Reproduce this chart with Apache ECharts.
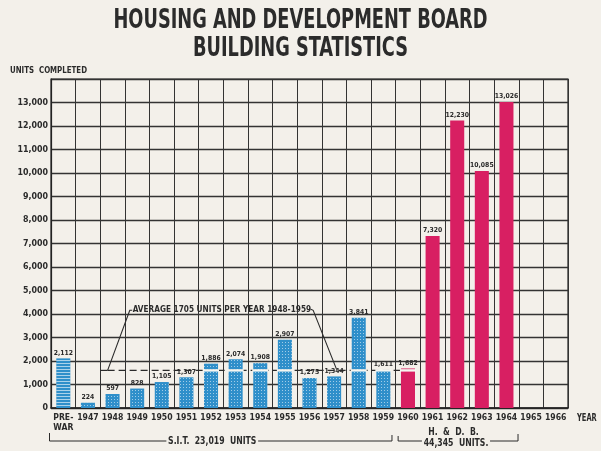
<!DOCTYPE html>
<html>
<head>
<meta charset="utf-8">
<script src="https://cdn.jsdelivr.net/npm/echarts@6/dist/echarts.min.js"></script>
<style>
html,body{margin:0;padding:0;background:#f3f0ea;}
#c{width:601px;height:451px;}
</style>
</head>
<body>
<div id="c"></div>
<script>
// ---- data ----
const categories = ['PRE-\nWAR','1947','1948','1949','1950','1951','1952','1953','1954','1955','1956','1957','1958','1959','1960','1961','1962','1963','1964','1965','1966'];
const sitValues = [2112,224,597,828,1105,1307,1886,2074,1908,2907,1275,1344,3841,1611,null,null,null,null,null,null,null];
const hdbValues = [null,null,null,null,null,null,null,null,null,null,null,null,null,null,1682,7320,12230,10085,13026,null,null];
const yMax = 14000;
const yStep = 1000;
const avgLevel = 1600;        // level at which the average line is drawn
const avgTextLevel = 4200;    // level of the annotation text
const titleText = 'HOUSING AND DEVELOPMENT BOARD\nBUILDING STATISTICS';
const avgText = 'AVERAGE 1705 UNITS PER YEAR 1948-1959';
const sitText = 'S.I.T.  23,019  UNITS';
const hdbText1 = 'H.  &  D.  B.';
const hdbText2 = '44,345  UNITS.';

const BG = '#f3f0ea';
const INK = '#2b2b2b';
const BLUE = '#2f8fca';
const PINK = '#d81f62';
const FONT = '"DejaVu Sans Condensed", "Liberation Sans Narrow", sans-serif';

const fmt = v => Number(v).toLocaleString('en-US');

const dotDecal = {
  symbol: 'rect', symbolSize: 1, color: 'rgba(255,255,255,0.55)',
  dashArrayX: [1, 1.4], dashArrayY: [1, 1.4]
};
const stripeDecal = {
  symbol: 'rect', symbolSize: 1, color: 'rgba(255,255,255,0.6)',
  dashArrayX: [20, 0], dashArrayY: [1, 1.6]
};

const sitData = sitValues.map((v, i) => {
  if (v == null) return null;
  if (i === 0) return { value: v, itemStyle: { decal: stripeDecal } };
  return v;
});

const labelStyle = {
  show: true, position: 'top', distance: 2,
  fontFamily: FONT, fontWeight: 'bold', fontSize: 6.8, color: INK,
  formatter: p => fmt(p.value)
};

const chart = echarts.init(document.getElementById('c'), null, { renderer: 'canvas' });

const option = {
  backgroundColor: BG,
  animation: false,
  grid: { left: 51, right: 33, top: 79, bottom: 43, show: true, borderColor: '#222', borderWidth: 1.2, backgroundColor: 'transparent' },
  xAxis: {
    type: 'category', data: categories,
    axisLine: { show: true, lineStyle: { color: '#222', width: 1.5 } },
    axisTick: { show: false },
    splitLine: { show: true, lineStyle: { color: '#333', width: 1 } },
    axisLabel: { interval: 0, fontFamily: FONT, fontWeight: 'bold', fontSize: 8.6, color: INK, margin: 5, lineHeight: 10 }
  },
  yAxis: {
    type: 'value', min: 0, max: yMax, interval: yStep,
    axisLine: { show: true, lineStyle: { color: '#222', width: 1.2 } },
    axisTick: { show: false },
    splitLine: { show: true, lineStyle: { color: '#333', width: 1.3 } },
    axisLabel: { fontFamily: FONT, fontWeight: 'bold', fontSize: 8.8, color: INK, margin: 3,
      formatter: v => v >= yMax ? '' : fmt(v) }
  },
  series: [
    { name: 'S.I.T.', type: 'bar', data: sitData, barWidth: '57%', barGap: '-100%',
      itemStyle: { color: BLUE, decal: dotDecal }, label: labelStyle, z: 3 },
    { name: 'H.D.B.', type: 'bar', data: hdbValues, barWidth: '57%', barGap: '-100%',
      itemStyle: { color: PINK }, label: labelStyle, z: 3 }
  ]
};
chart.setOption(option);

// ---- annotations positioned through the axes ----
const px = (i, v) => chart.convertToPixel({ seriesIndex: 0 }, [i, v]);
const band = px(1, 0)[0] - px(0, 0)[0];
const leftEdge = px(0, 0)[0] - band / 2;
const fx = f => leftEdge + f * band;          // fractional category position
const fy = v => px(0, v)[1];
const y0 = fy(0);
const yAvg = fy(avgLevel);
const yTxt = fy(avgTextLevel);
const i1948 = categories.indexOf('1948');
const i1960 = categories.indexOf('1960');
const barW = band * 0.57;

const txt = (x, y, text, size, opts) => Object.assign({
  type: 'text', z: 52, x: x, y: y, scaleX: (opts && opts.sx) || 1,
  style: Object.assign({ text: text, fontFamily: FONT, fontWeight: 'bold', fontSize: size, fill: INK,
    align: 'left', verticalAlign: 'middle' }, (opts && opts.style) || {})
}, {});

const g = [];
// title
g.push(txt(300.5, 35, titleText, 26, { sx: 0.76, style: { align: 'center', lineHeight: 27.5 } }));
// average line: short solid start, then dashes
g.push({ type: 'line', z: 50, shape: { x1: fx(i1948), y1: yAvg, x2: fx(i1948 + 0.3), y2: yAvg }, style: { stroke: INK, lineWidth: 1.2 } });
g.push({ type: 'line', z: 50, shape: { x1: fx(i1948 + 0.3), y1: yAvg, x2: fx(i1960 + 0.5), y2: yAvg }, style: { stroke: INK, lineWidth: 1.3, lineDash: [7, 4] } });
// white gaps on bars crossing the line
const allVals = sitValues.map((v, i) => v != null ? v : hdbValues[i]);
allVals.forEach((v, i) => {
  if (v != null && v > avgLevel && i >= i1948 && i <= i1960) {
    const cx = px(i, 0)[0];
    g.push({ type: 'rect', z: 51, shape: { x: cx - barW / 2 - 1, y: yAvg - 1.2, width: barW + 2, height: 2.4 }, style: { fill: '#f6f6f2' } });
  }
});
// leader lines
g.push({ type: 'polyline', z: 50, shape: { points: [[fx(i1948 + 0.3), yAvg], [fx(3.2), yTxt + 1], [fx(3.3), yTxt + 1]] }, style: { stroke: INK, lineWidth: 1.1, fill: null } });
g.push({ type: 'polyline', z: 50, shape: { points: [[fx(10.55), yTxt], [fx(10.65), yTxt + 1], [fx(11.6), yAvg - 1]] }, style: { stroke: INK, lineWidth: 1.1, fill: null } });
g.push(txt(fx(3.32), yTxt, avgText, 9.5, { sx: 0.86 }));

// axis captions
g.push(txt(10, 71, 'UNITS  COMPLETED', 8.5, { sx: 0.92 }));
g.push(txt(fx(21) + 9, y0 + 10, 'YEAR', 9.8, { sx: 0.76 }));

// bottom brackets
const yb = y0 + 33;
g.push({ type: 'polyline', z: 50, shape: { points: [[fx(0) - 1.5, yb - 8], [fx(0) - 1.5, yb], [fx(13.85), yb], [fx(13.85), yb - 6]] }, style: { stroke: INK, lineWidth: 1, fill: null } });
g.push(txt(fx(6.55), yb, sitText, 10, { sx: 0.86, style: { align: 'center', backgroundColor: BG, padding: [0, 2] } }));
g.push({ type: 'polyline', z: 50, shape: { points: [[fx(14.1), yb - 5], [fx(14.1), yb], [fx(18.97), yb], [fx(18.97), yb - 7]] }, style: { stroke: INK, lineWidth: 1, fill: null } });
g.push(txt(fx(16.35), yb - 9, hdbText1, 10, { sx: 0.86, style: { align: 'center' } }));
g.push(txt(fx(16.45), yb + 2, hdbText2, 10, { sx: 0.86, style: { align: 'center', backgroundColor: BG, padding: [0, 2] } }));

chart.setOption({ graphic: { elements: g } });
</script>
</body>
</html>
